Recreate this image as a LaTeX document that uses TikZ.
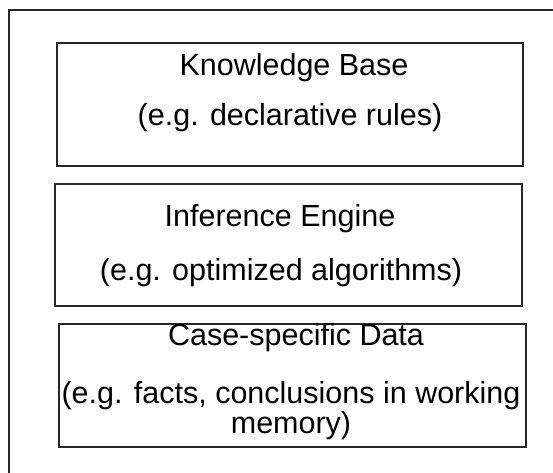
\documentclass[tikz,border=0pt]{standalone}
\usepackage{fontspec}
\setmainfont{Liberation Sans}
\begin{document}
\begin{tikzpicture}[x=1pt,y=-1pt,
  frame/.style={draw=black!85,line width=1.6pt},
  lbl/.style={inner sep=0pt,anchor=base,font=\fontsize{30.5}{26}\selectfont,text=black}]
\clip (0,0) rectangle (553,472);
\fill[white] (0,0) rectangle (553,472);
% outer frame (extends beyond the picture on right and bottom)
\draw[frame] (9,10) rectangle (620,540);
% boxes
\draw[frame] (57,43) rectangle (523,166);
\draw[frame] (55,184) rectangle (522,306);
\draw[frame] (59,324) rectangle (526,447);
% texts
\node[lbl] (kb1) at (294,75) {Knowledge Base};
\node[lbl] (kb2) at (290,125) {(e.g. declarative rules)};
\node[lbl] (ie1) at (280,226) {Inference Engine};
\node[lbl] (ie2) at (281,280) {(e.g. optimized algorithms)};
\node[lbl] (cd1) at (296,345) {Case-specific Data};
\node[lbl,align=center] (cd2) at (291,433) {(e.g. facts, conclusions in working\\memory)};
\end{tikzpicture}
\end{document}
